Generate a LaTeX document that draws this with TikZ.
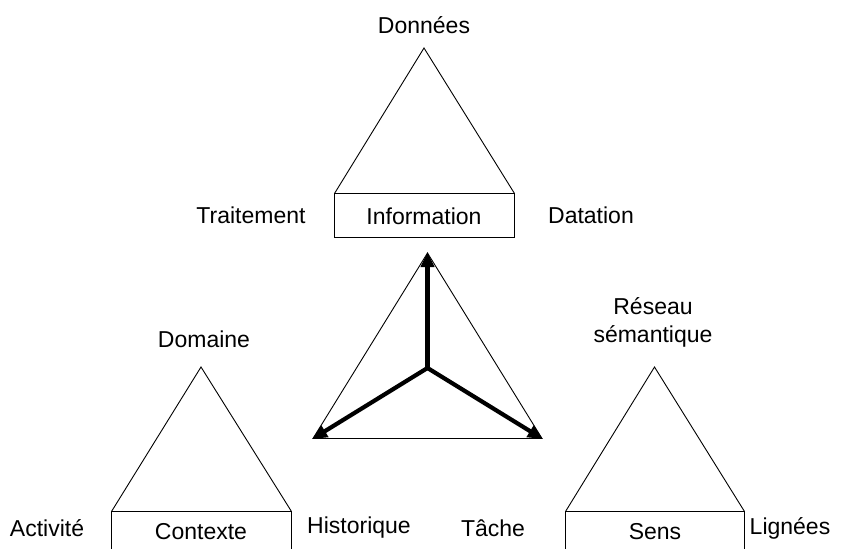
\documentclass[tikz,border=0pt]{standalone}
\usepackage{fontspec}
\setmainfont{Liberation Sans}
\usetikzlibrary{arrows.meta}
\begin{document}
\begin{tikzpicture}[x=1pt,y=-1pt,
  thin line/.style={line width=0.9pt,line join=miter},
  lbl/.style={inner sep=0pt,font=\fontsize{23}{28}\selectfont},
  axis/.style={line width=4.2pt,-{Triangle[length=15pt,width=13pt]},shorten >=-1pt}]
\clip (0,0) rectangle (844,549);
\fill[white] (0,0) rectangle (844,549);

% top triad: Information
\coordinate (tA) at (424,48);
\coordinate (tL) at (334.5,193.5);
\coordinate (tR) at (514.5,193.5);
\coordinate (tBR) at (514.5,237.5);
\draw[thin line] (tL) -- (tA) -- (tR);
\draw[thin line] (tL) rectangle (tBR);
\node[lbl] (info) at (424,216) {Information};
\node[lbl] (donnees) at (424,25) {Données};
\node[lbl] (trait) at (251,215) {Traitement};
\node[lbl] (datat) at (591,215) {Datation};

% bottom-left triad: Contexte (box runs off the lower edge)
\coordinate (lA) at (201,367);
\coordinate (lL) at (111.5,511.5);
\coordinate (lR) at (291.5,511.5);
\coordinate (lLo) at (111.5,560);
\coordinate (lRo) at (291.5,560);
\draw[thin line] (lL) -- (lA) -- (lR);
\draw[thin line] (lLo) -- (lL) -- (lR) -- (lRo);
\node[lbl] (ctx) at (201,532) {Contexte};
\node[lbl] (dom) at (204,339) {Domaine};
\node[lbl] (act) at (47,528) {Activité};
\node[lbl] (hist) at (359,528) {Historique};

% bottom-right triad: Sens (box runs off the lower edge)
\coordinate (rA) at (654.5,367);
\coordinate (rL) at (565.5,511.5);
\coordinate (rR) at (744.5,511.5);
\coordinate (rLo) at (565.5,560);
\coordinate (rRo) at (744.5,560);
\draw[thin line] (rL) -- (rA) -- (rR);
\draw[thin line] (rLo) -- (rL) -- (rR) -- (rRo);
\node[lbl] (sens) at (655,532) {Sens};
\node[lbl,align=center] (reseau) at (653,322) {Réseau\\sémantique};
\node[lbl] (tache) at (493,528) {Tâche};
\node[lbl] (lign) at (790,528) {Lignées};

% central triangle with its three axes
\coordinate (cT) at (427.5,253);
\coordinate (cL) at (313,438.5);
\coordinate (cR) at (542,438.5);
\coordinate (cO) at (427.5,368);
\draw[thin line] (cT) -- (cR) -- (cL) -- cycle;
\draw[axis] (cO) -- (cT);
\draw[axis] (cO) -- (cL);
\draw[axis] (cO) -- (cR);
\end{tikzpicture}
\end{document}
